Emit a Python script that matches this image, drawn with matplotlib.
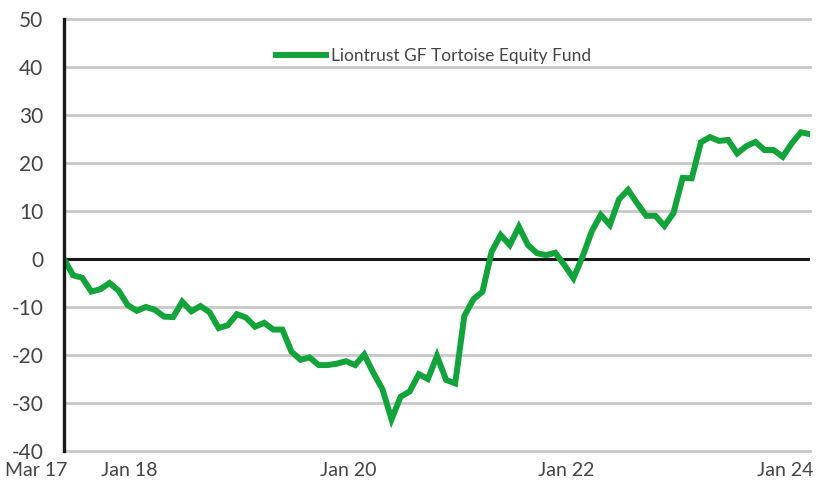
import numpy as np
import matplotlib
matplotlib.use("Agg")
import matplotlib.pyplot as plt
import matplotlib.transforms as mtransforms

# monthly cumulative performance (%), Mar 17 .. Jan 24
fund_name = "Liontrust GF Tortoise Equity Fund"
fund_values = [
    0.0, -3.4, -3.9, -6.8, -6.3, -5.0, -6.6, -9.6, -10.8, -10.0,
    -10.6, -12.0, -12.1, -8.9, -10.9, -9.8, -11.1, -14.4, -13.8, -11.5,
    -12.2, -14.1, -13.3, -14.7, -14.7, -19.3, -21.0, -20.5, -22.1, -22.1,
    -21.8, -21.3, -22.1, -19.9, -23.7, -27.1, -33.4, -28.7, -27.6, -24.0,
    -25.0, -20.2, -25.2, -25.9, -11.9, -8.4, -6.8, 1.5, 5.0, 2.9,
    6.7, 2.9, 1.2, 0.8, 1.3, -1.25, -4.0, 0.5, 5.7, 9.2,
    7.1, 12.4, 14.4, 11.6, 9.0, 9.0, 6.9, 9.6, 16.9, 16.8,
    24.3, 25.4, 24.6, 24.8, 22.0, 23.5, 24.4, 22.7, 22.7, 21.3,
    24.1, 26.4, 26.0,
]
tick_months = [0, 10, 34, 58, 82]
tick_labels = ["Mar 17", "Jan 18", "Jan 20", "Jan 22", "Jan 24"]
y_ticks = list(range(-40, 51, 10))

plt.rcParams["font.family"] = ["Lato", "DejaVu Sans"]
text_color = "#454545"

fig = plt.figure(figsize=(8.19, 4.84), dpi=100)
ax = fig.add_axes([64 / 819, 1 - 451 / 484, (810 - 64) / 819, (451 - 19) / 484])

months = np.arange(len(fund_values))
ax.plot(months, fund_values, color="#13a33b", linewidth=4.3,
        solid_joinstyle="miter", label=fund_name, zorder=4)

ax.set_xlim(0, len(fund_values) - 1)
ax.set_ylim(-40, 50)

# grid lines and zero line
for y in y_ticks:
    if y == 0:
        ax.axhline(y, color="#1a1a1a", linewidth=2.2, zorder=3)
    else:
        ax.axhline(y, color="#c8c8c8", linewidth=2.0, zorder=1, clip_on=False)

for side in ["top", "right", "bottom"]:
    ax.spines[side].set_visible(False)
ax.spines["left"].set_color("#1a1a1a")
ax.spines["left"].set_linewidth(2.4)
ax.spines["left"].set_zorder(5)

ax.set_yticks(y_ticks)
ax.set_yticklabels([str(v) for v in y_ticks])
ax.tick_params(axis="y", length=0, pad=15, labelsize=15, labelcolor=text_color)

ax.set_xticks(tick_months)
ax.set_xticklabels(tick_labels)
ax.tick_params(axis="x", length=0, pad=8, labelsize=14, labelcolor=text_color)
shift = mtransforms.ScaledTranslation(3 / 100, 0, fig.dpi_scale_trans)
for lbl in ax.get_xticklabels():
    lbl.set_horizontalalignment("right")
    lbl.set_transform(lbl.get_transform() + shift)

leg = ax.legend(loc="upper center", bbox_to_anchor=(0.495, 0.97), frameon=False,
                fontsize=12.5, handlelength=2.9, handletextpad=0.25)
for t in leg.get_texts():
    t.set_color(text_color)

fig.savefig("out.png", dpi=100)
